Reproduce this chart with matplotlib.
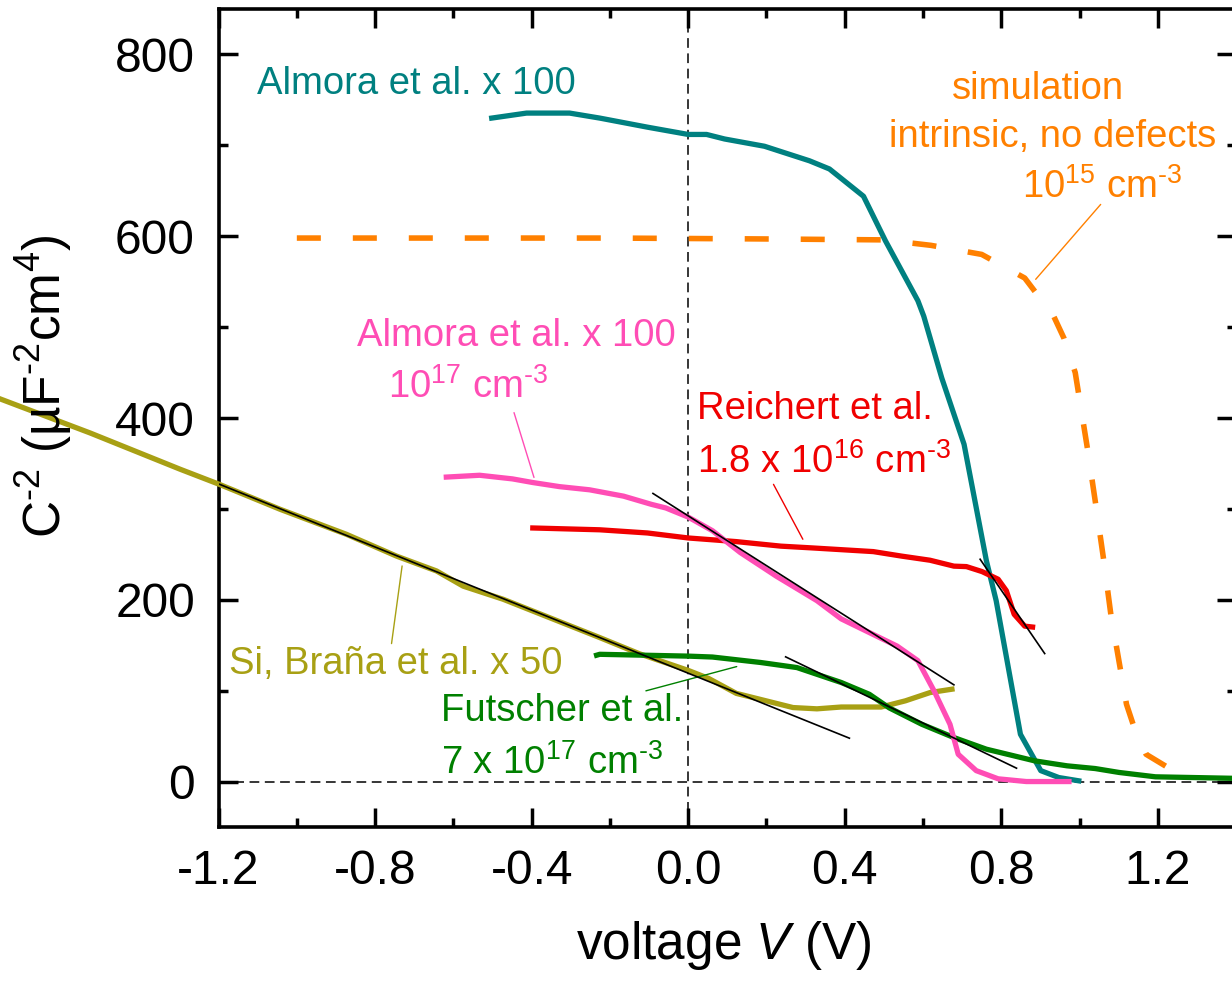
import matplotlib
matplotlib.use("Agg")
import matplotlib.pyplot as plt
import numpy as np
from matplotlib.ticker import MultipleLocator, FormatStrFormatter

plt.rcParams['font.family'] = ['Liberation Sans', 'DejaVu Sans']
plt.rcParams['mathtext.fontset'] = 'custom'
plt.rcParams['mathtext.rm'] = 'Liberation Sans'
plt.rcParams['mathtext.it'] = 'Liberation Sans:italic'
plt.rcParams['mathtext.bf'] = 'Liberation Sans:bold'
plt.rcParams['axes.unicode_minus'] = False
plt.rcParams['lines.scale_dashes'] = False

# ---- data: C^-2 vs. voltage ----
# Almora et al. (x 100), intrinsic
almora_v = [-0.502, -0.413, -0.303, -0.226, -0.104, 0.0, 0.047, 0.093, 0.195,
            0.310, 0.361, 0.448, 0.504, 0.587, 0.602, 0.648, 0.705, 0.762,
            0.787, 0.849, 0.901, 0.947, 0.998]
almora_c = [730, 735.5, 735.5, 730, 720, 712, 712, 707, 699,
            683, 674, 644, 595, 529, 512, 444, 371, 243,
            199, 52, 12, 4.4, 0.8]

# simulation, intrinsic, no defects
sim_v = [-1.0, -0.6, -0.2, 0.2, 0.5, 0.62, 0.75, 0.86, 0.934, 0.96, 0.989,
         1.020, 1.040, 1.061, 1.080, 1.12, 1.14, 1.17, 1.22]
sim_c = [598, 598, 598, 597, 596, 590, 580, 554, 512, 488, 450,
         367, 309, 246, 184, 85, 59, 30, 17]

# Almora et al. (x 100), 10^17 cm^-3
almora17_v = [-0.618, -0.533, -0.449, -0.397, -0.329, -0.252, -0.165,
              -0.094, -0.057, 0.0, 0.062, 0.133, 0.225, 0.329, 0.391, 0.534,
              0.587, 0.628, 0.669, 0.690, 0.736, 0.792, 0.864, 0.973]
almora17_c = [335, 337, 333, 329, 324.5, 321, 314,
              305, 301, 291, 276, 252, 226, 199, 179, 149,
              133, 100, 63, 30, 12, 3, 0, 0]

# Reichert et al., 1.8 x 10^16 cm^-3
reichert_v = [-0.397, -0.226, -0.104, 0.0, 0.123, 0.237, 0.319, 0.473, 0.546,
              0.618, 0.679, 0.711, 0.751, 0.792, 0.813, 0.833, 0.860, 0.880]
reichert_c = [279, 277, 273.5, 268, 264, 259, 257, 253, 248,
              243.5, 237, 236.5, 231, 222.6, 210, 184, 171, 170]

# Si, Brana et al. (x 50)
si_v = [-1.758, -1.528, -1.298, -1.198, -1.043, -0.873, -0.745, -0.643, -0.575,
        -0.473, -0.226, -0.124, 0.0, 0.052, 0.123, 0.268, 0.329, 0.391, 0.493,
        0.555, 0.618, 0.674]
si_c = [421, 383.5, 343.6, 327, 299.6, 272, 248, 231.7, 215,
        200.6, 158.4, 140.5, 122.3, 113.5, 97, 81.4, 80, 82, 82,
        88.8, 97.9, 101.6]

# Futscher et al., 7 x 10^17 cm^-3
futscher_v = [-0.234, -0.226, 0.0, 0.062, 0.185, 0.278, 0.391, 0.463, 0.514,
              0.597, 0.679, 0.762, 0.885, 0.968, 1.040, 1.101, 1.194, 1.40]
futscher_c = [139, 140, 138, 137, 131, 125.4, 109, 96, 81,
              63, 48.4, 35.6, 22.8, 17.3, 14.3, 10, 5.2, 3.5]

# linear fits (start/end voltage and C^-2 values)
fit_si_v, fit_si_c = [-1.2, 0.412], [327.5, 47.7]
fit_almora17_v, fit_almora17_c = [-0.090, 0.679], [317.0, 106.4]
fit_futscher_v, fit_futscher_c = [0.249, 0.839], [137.2, 14.7]
fit_reichert_v, fit_reichert_c = [0.746, 0.911], [244.6, 140.8]

TEAL = '#008080'
ORANGE = '#FF8000'
PINK = '#FF4DB5'
RED = '#F00000'
GREEN = '#008000'
OLIVE = '#A8A014'

DPI = 100
fig = plt.figure(figsize=(12.32, 9.81), dpi=DPI)
ax = fig.add_axes([0.1774, 0.157, 1.0033 - 0.1774, 0.9908 - 0.157])
ax.set_xlim(-1.2, 1.4)
ax.set_ylim(-50, 850)

# reference lines at V = 0 and C^-2 = 0
ax.axvline(0, color='black', lw=1.1, dashes=(7, 4), zorder=1)
ax.axhline(0, color='black', lw=1.1, dashes=(7, 4), zorder=1)

LW = 3.8

# dashed simulation curve: stretch the gaps slightly so that the curve
# both starts and ends on a full dash
DASH_ON, DASH_OFF = 17.3, 23.8
pts = ax.transData.transform(np.column_stack([sim_v, sim_c]))
path_len = np.sum(np.hypot(*np.diff(pts, axis=0).T)) * 72.0 / DPI
n_per = max(1, round((path_len - DASH_ON) / (DASH_ON + DASH_OFF)))
gap = (path_len - DASH_ON) / n_per - DASH_ON
ax.plot(sim_v, sim_c, color=ORANGE, lw=4.0,
        linestyle=(0, (DASH_ON, gap)), zorder=2)

ax.plot(almora_v, almora_c, color=TEAL, lw=LW, zorder=3)
ax.plot(si_v, si_c, color=OLIVE, lw=LW, zorder=3, clip_on=False)
ax.plot(futscher_v, futscher_c, color=GREEN, lw=LW, zorder=3)
ax.plot(reichert_v, reichert_c, color=RED, lw=LW, zorder=3)
ax.plot(almora17_v, almora17_c, color=PINK, lw=LW, zorder=4)

for fv, fc in [(fit_si_v, fit_si_c), (fit_almora17_v, fit_almora17_c),
               (fit_futscher_v, fit_futscher_c), (fit_reichert_v, fit_reichert_c)]:
    ax.plot(fv, fc, color='black', lw=1.2, zorder=5)

ax.xaxis.set_major_locator(MultipleLocator(0.4))
ax.xaxis.set_minor_locator(MultipleLocator(0.2))
ax.xaxis.set_major_formatter(FormatStrFormatter('%.1f'))
ax.yaxis.set_major_locator(MultipleLocator(200))
ax.yaxis.set_minor_locator(MultipleLocator(100))

for s in ax.spines.values():
    s.set_linewidth(2.6)
ax.tick_params(which='both', direction='in', top=True, right=True, width=2.5)
ax.tick_params(which='major', length=13.7, labelsize=34.5)
ax.tick_params(which='minor', length=6.8)
ax.tick_params(axis='y', pad=17)
ax.tick_params(axis='x', pad=16)

fig.text(723.5 / 1232, (981 - 959.3) / 981, 'voltage $V$ (V)', fontsize=37,
         ha='center', va='baseline')
fig.text(44 / 1232, (981 - 386.5) / 981,
         'C$^{\\text{-2}}$ (µF$^{\\text{-2}}$cm$^{4}$)', fontsize=37,
         rotation=90, ha='center', va='center')

FS = 27.5
ax.text(-0.695, 756.7, 'Almora et al. x 100', color=TEAL, fontsize=FS,
        ha='center', va='baseline')

ax.text(0.8935, 750.5, 'simulation', color=ORANGE, fontsize=FS,
        ha='center', va='baseline')
ax.text(0.930, 698.4, 'intrinsic, no defects', color=ORANGE, fontsize=FS,
        ha='center', va='baseline')
ax.text(1.0567, 641.7, '10$^{15}$ cm$^{\\text{-3}}$', color=ORANGE, fontsize=FS,
        ha='center', va='baseline')
ax.annotate('', xy=(0.888, 552.6), xytext=(1.054, 635),
            arrowprops=dict(arrowstyle='-', color=ORANGE, lw=1.0,
                            shrinkA=0, shrinkB=0))

ax.text(-0.440, 479.2, 'Almora et al. x 100', color=PINK, fontsize=FS,
        ha='center', va='baseline')
ax.text(-0.5627, 421.7, '10$^{17}$ cm$^{\\text{-3}}$', color=PINK, fontsize=FS,
        ha='center', va='baseline')
ax.annotate('', xy=(-0.394, 334.6), xytext=(-0.445, 405.9),
            arrowprops=dict(arrowstyle='-', color=PINK, lw=1.0,
                            shrinkA=0, shrinkB=0))

ax.text(0.0227, 398.6, 'Reichert et al.', color=RED, fontsize=FS,
        ha='left', va='baseline')
ax.text(0.0227, 339.9, '1.8 x 10$^{16}$ cm$^{\\text{-3}}$', color=RED, fontsize=FS,
        ha='left', va='baseline')
ax.annotate('', xy=(0.293, 266.6), xytext=(0.218, 327),
            arrowprops=dict(arrowstyle='-', color=RED, lw=1.0,
                            shrinkA=0, shrinkB=0))

ax.text(-0.7485, 118.8, 'Si, Braña et al. x 50', color=OLIVE, fontsize=FS,
        ha='center', va='baseline')
ax.annotate('', xy=(-0.731, 237.2), xytext=(-0.758, 151.8),
            arrowprops=dict(arrowstyle='-', color=OLIVE, lw=1.0,
                            shrinkA=0, shrinkB=0))

ax.text(-0.6306, 66.8, 'Futscher et al.', color=GREEN, fontsize=FS,
        ha='left', va='baseline')
ax.text(-0.6306, 8.1, '7 x 10$^{17}$ cm$^{\\text{-3}}$', color=GREEN, fontsize=FS,
        ha='left', va='baseline')
ax.annotate('', xy=(0.124, 126.5), xytext=(-0.108, 99.8),
            arrowprops=dict(arrowstyle='-', color=GREEN, lw=1.0,
                            shrinkA=0, shrinkB=0))

fig.savefig('out.png', dpi=DPI)
